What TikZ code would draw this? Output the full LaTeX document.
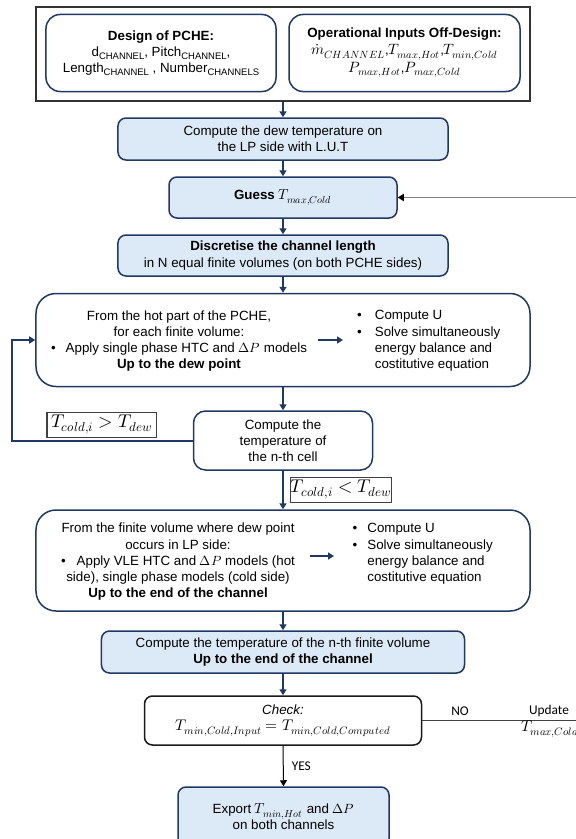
\documentclass[tikz,border=0pt]{standalone}
\usepackage{fontspec}
\usepackage{unicode-math}
\setmainfont{Liberation Sans}
\setmathfont{Latin Modern Math}
\newfontfamily\calib{Carlito}
\usetikzlibrary{arrows.meta}
\definecolor{navy}{RGB}{32,56,100}
\definecolor{lblue}{RGB}{220,233,246}
\newcommand{\chsub}[1]{\raisebox{-0.4ex}{\fontsize{9.5}{10}\selectfont #1}}
\newcommand{\mth}[2][14.5]{{\fontsize{#1}{16}\selectfont$#2$}}
\begin{document}
\begin{tikzpicture}[x=1bp,y=-1bp,font=\fontsize{13.4}{16.3}\selectfont,
  box/.style={draw=navy, line width=1.5bp, rounded corners=8bp, fill=lblue, align=center, inner sep=0pt},
  wbox/.style={box, fill=white},
  conn/.style={draw=navy, line width=2bp, -{Triangle[length=6bp,width=7bp]}},
  lab/.style={draw=black!75, line width=1bp, fill=white, inner sep=0pt},
  plain/.style={inner sep=0pt, align=center},
  cal/.style={inner sep=0pt, align=center, font=\calib\fontsize{13.4}{16.3}\selectfont}]
\useasboundingbox (0,0) rectangle (576,839);
\clip (0,0) rectangle (576,839);
\fill[white] (0,0) rectangle (576,839);

% top frame
\node[draw=black!80, line width=1.5bp, minimum width=494bp, minimum height=94bp, inner sep=0pt] (outer) at (283,54) {};
\node[wbox, rounded corners=14bp, minimum width=230bp, minimum height=77bp] (design) at (161,53)
  {\textbf{Design of PCHE:}\\d\chsub{CHANNEL}, Pitch\chsub{CHANNEL},\\Length\chsub{CHANNEL} , Number\chsub{CHANNELS}};
\node[wbox, rounded corners=14bp, minimum width=231bp, minimum height=77bp] (ops) at (404.5,53)
  {\textbf{Operational Inputs Off-Design:}\\[1bp]\mth[15]{\dot{m}_{CHANNEL}},\mth[15]{T_{max,Hot}},\mth[15]{T_{min,Cold}}\\[1bp]\mth[15]{P_{max,Hot}},\mth[15]{P_{max,Cold}}};

% main column
\node[box, minimum width=330bp, minimum height=42bp] (dew) at (283,139)
  {Compute the dew temperature on\\the LP side with L.U.T};
\node[box, minimum width=228bp, minimum height=41bp] (guess) at (283,197.5)
  {\textbf{Guess} \mth{T_{max,Cold}}};
\node[box, minimum width=330bp, minimum height=41bp] (disc) at (283,255.5)
  {\textbf{Discretise the channel length}\\in N equal finite volumes (on both PCHE sides)};

\node[wbox, rounded corners=20bp, minimum width=494bp, minimum height=93bp] (hot) at (283,340) {};
\node[plain] (hotL) at (179,341)
  {From the hot part of the PCHE,\\for each finite volume:\\\textbullet\hspace{10bp}Apply single phase HTC and \mth[13.4]{\Delta P} models\\\textbf{Up to the dew point}};
\node[anchor=west, inner sep=0pt] (hotR) at (357,341)
  {\begin{tabular}{@{}l@{\hspace{13bp}}l@{}}\textbullet&Compute U\\\textbullet&Solve simultaneously\\&energy balance and\\&costitutive equation\end{tabular}};
\coordinate (h1) at (318,340);
\coordinate (h2) at (343,340);
\draw[conn] (h1) -- (h2);

\node[wbox, rounded corners=12bp, minimum width=179bp, minimum height=59bp] (cell) at (283,440.5)
  {Compute the\\temperature of\\the n-th cell};

\node[lab, minimum width=109bp, minimum height=25bp] (lab1) at (101.5,424.5) {\mth[18.5]{T_{cold,i} > T_{dew}}};
\node[lab, minimum width=100bp, minimum height=25bp] (lab2) at (341,489.5) {\mth[18.5]{T_{cold,i} < T_{dew}}};

\node[wbox, rounded corners=20bp, minimum width=494bp, minimum height=101bp] (vle) at (283,560.5) {};
\node[plain] (vleL) at (178,562)
  {From the finite volume where dew point\\occurs in LP side:\\\textbullet\hspace{11bp}Apply VLE HTC and \mth[13.4]{\Delta P} models (hot\\side), single phase models (cold side)\\\textbf{Up to the end of the channel}};
\node[anchor=west, inner sep=0pt] (vleR) at (352.5,554)
  {\begin{tabular}{@{}l@{\hspace{10bp}}l@{}}\textbullet&Compute U\\\textbullet&Solve simultaneously\\&energy balance and\\&costitutive equation\end{tabular}};
\coordinate (v1) at (310,556);
\coordinate (v2) at (334,556);
\draw[conn] (v1) -- (v2);

\node[box, minimum width=363bp, minimum height=42bp] (vol) at (283,652)
  {Compute the temperature of the n-th finite volume\\\textbf{Up to the end of the channel}};
\node[wbox, draw=black!90, minimum width=277bp, minimum height=49bp] (check) at (283,720.5)
  {\textit{Check:}\\\mth[15.5]{T_{min,Cold,Input} = T_{min,Cold,Computed}}};
\node[box, minimum width=211bp, minimum height=60bp] (export) at (283.5,817)
  {Export \mth{T_{min,Hot}} and \mth[13.4]{\Delta P}\\on both channels};

% connectors
\draw[conn] (outer.south) -- (dew.north);
\draw[conn] (dew.south) -- (guess.north);
\draw[conn] (guess.south) -- (disc.north);
\draw[conn] (disc.south) -- (hot.north);
\draw[conn] (hot.south) -- (cell.north);
\draw[conn] (cell.south) -- (vle.north);
\draw[conn] (vle.south) -- (vol.north);
\draw[conn] (vol.south) -- (check.north);
\draw[black, line width=1bp, -{Triangle[length=6bp,width=7bp]}] (check.south) -- (export.north)
  node[cal, pos=0.5, right=8bp] (yes) {YES};

\coordinate (fb) at (12,440.5);
\draw[conn] (cell.west) -- (fb) |- (hot.west);

\coordinate (r1) at (640,720.5);
\coordinate (r2) at (640,197.5);
\draw[black!75, line width=0.8bp] (check.east) -- (r1);
\draw[black!50, line width=1.5bp, -{Triangle[length=6bp,width=7bp,color=black]}] (r2) -- (guess.east);

\node[cal] (no) at (460,711) {NO};
\node[cal] (upd) at (549,711) {Update};
\node[inner sep=0pt] (updT) at (550,729) {\mth[15.5]{T_{max,Cold}}};
\end{tikzpicture}
\end{document}
